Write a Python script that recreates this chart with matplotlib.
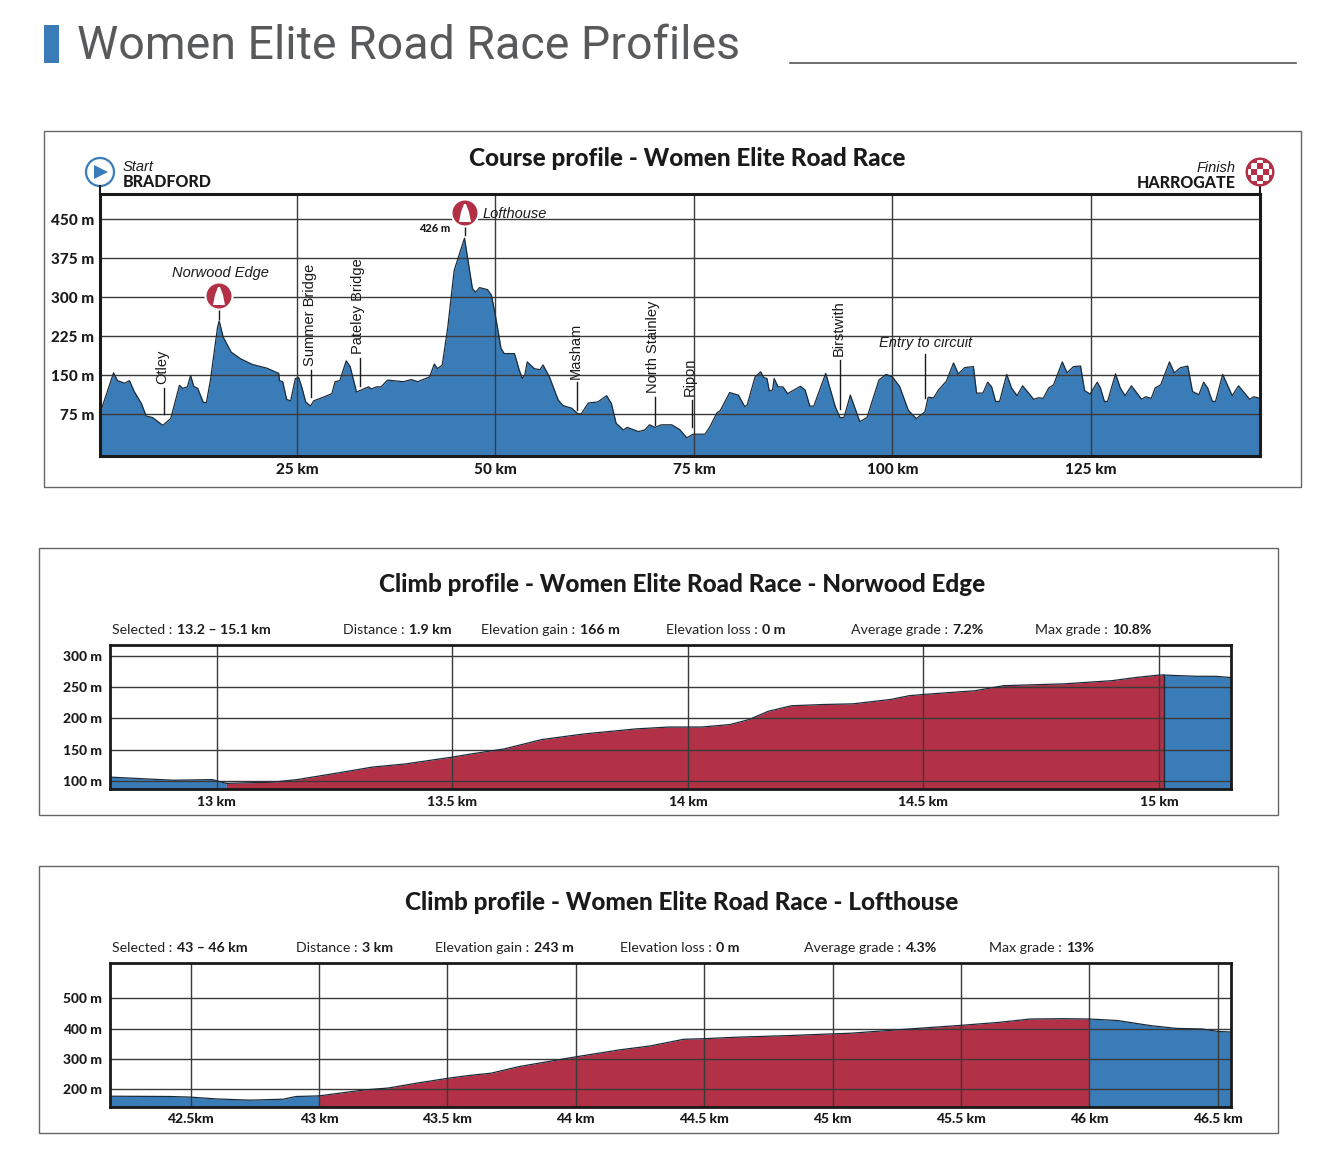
import matplotlib
matplotlib.use('Agg')
import matplotlib.pyplot as plt
from matplotlib.patches import Rectangle, Circle, Polygon

BLUE = '#3a7cb8'
RED = '#b23146'
DARK = '#1a1a1a'
GRID = '#3a3a3a'

# main course profile
main_km = [0.19, 1.9, 2.4, 3.3, 3.9, 4.5, 5.4, 6.0, 6.8, 8.1, 9.1, 10.2, 10.6, 11.2, 11.6, 12.0, 12.5, 13.2, 13.6, 14.1,
           15.0, 15.2, 15.7, 16.7, 17.9, 19.4, 21.2, 22.7, 22.8, 23.2, 23.7, 24.2, 24.8, 25.2, 25.6, 26.1, 26.7, 27.1,
           28.3, 29.4, 29.8, 30.4, 31.2, 31.7, 32.5, 34.0, 34.4, 35.0, 35.6, 36.4, 38.4, 39.4, 40.2, 41.7, 42.3, 42.7,
           43.3, 44.0, 44.8, 46.1, 47.1, 47.5, 48.0, 49.0, 49.5, 50.1, 50.7, 51.1, 52.4, 53.0, 53.4, 53.7, 54.0, 54.9,
           55.6, 56.0, 56.8, 57.9, 58.5, 59.6, 60.4, 60.8, 61.7, 62.9, 64.0, 64.6, 65.2, 66.1, 66.6, 68.0, 68.8, 69.4,
           70.1, 70.9, 72.2, 73.2, 74.1, 74.9, 76.4, 77.0, 77.9, 78.3, 79.5, 80.6, 81.4, 81.7, 82.7, 83.4, 83.8, 84.2,
           84.5, 84.9, 85.1, 85.6, 86.2, 86.8, 88.4, 89.0, 89.6, 90.1, 91.6, 92.8, 93.4, 93.9, 94.7, 95.9, 96.8, 98.3,
           99.2, 100.0, 100.9, 102.0, 103.0, 104.1, 104.5, 105.2, 105.8, 106.8, 107.7, 108.3, 109.1, 110.2, 110.6,
           111.4, 112.0, 112.5, 113.0, 113.5, 114.4, 115.0, 115.7, 116.4, 117.8, 118.4, 119.0, 119.7, 120.3, 121.4,
           122.0, 122.8, 123.7, 124.2, 124.9, 125.8, 126.2, 126.7, 127.1, 128.1, 128.7, 129.3, 130.1, 131.4, 131.9,
           132.6, 133.1, 133.8, 134.9, 135.5, 136.3, 137.2, 137.8, 138.6, 139.2, 139.7, 140.3, 140.7, 141.6, 142.8,
           143.6, 145.0, 145.5, 146.3]
main_elev = [77, 155, 140, 135, 140, 119, 96, 72, 69, 54, 67, 131, 125, 128, 150, 129, 125, 98, 98, 141,
             243, 255, 224, 195, 182, 171, 164, 154, 140, 138, 104, 101, 144, 146, 128, 99, 91, 101,
             108, 115, 138, 140, 178, 167, 118, 128, 124, 128, 128, 141, 138, 142, 138, 147, 172, 163,
             170, 243, 352, 414, 317, 310, 319, 315, 304, 256, 202, 192, 192, 160, 144, 151, 176, 163,
             161, 170, 147, 103, 92, 87, 76, 76, 97, 99, 111, 96, 58, 45, 50, 42, 45, 55,
             50, 55, 55, 46, 30, 37, 37, 51, 78, 82, 117, 112, 90, 93, 147, 157, 146, 144,
             120, 122, 144, 128, 128, 115, 129, 122, 91, 91, 154, 90, 69, 69, 112, 61, 69, 141,
             152, 147, 129, 83, 67, 80, 108, 107, 122, 139, 174, 153, 165, 167, 116,
             116, 137, 128, 100, 100, 152, 126, 111, 130, 104, 107, 106, 126, 132, 176,
             155, 167, 168, 121, 114, 137, 126, 100, 100, 153, 126, 111, 130, 104, 109,
             106, 126, 132, 176, 155, 165, 168, 119, 113, 137, 126, 100, 100, 152, 111,
             130, 104, 109, 106]
main_xticks = [25, 50, 75, 100, 125]
main_xlabels = ['25 km', '50 km', '75 km', '100 km', '125 km']
main_yticks = [75, 150, 225, 300, 375, 450]
main_ylabels = ['75 m', '150 m', '225 m', '300 m', '375 m', '450 m']

place_names = ['Otley', 'Summer Bridge', 'Pateley Bridge', 'Masham', 'North Stainley', 'Ripon', 'Birstwith']
place_km = [8.2, 26.8, 32.9, 60.3, 70.1, 74.7, 93.4]
place_low = [75, 109, 130, 84, 55, 51, 86]
place_high = [126, 161, 184, 137, 109, 103, 180]

# Norwood Edge climb
c1_before_km = [12.773, 12.907, 12.99, 13.02]
c1_before_elev = [106, 101, 102, 96]
c1_km = [13.02, 13.12, 13.17, 13.26, 13.33, 13.40, 13.50, 13.54, 13.61, 13.69, 13.78, 13.89, 13.96, 14.03, 14.09,
         14.13, 14.17, 14.22, 14.29, 14.35, 14.43, 14.47, 14.5, 14.61, 14.67, 14.80, 14.90, 14.95, 15.0, 15.01]
c1_elev = [96, 98, 102, 113, 122, 127, 138, 143, 151, 166, 175, 183, 186, 186, 190,
           198, 211, 220, 222, 223, 230, 236, 238, 244, 252, 255, 260, 265, 269, 269]
c1_after_km = [15.01, 15.08, 15.12, 15.153]
c1_after_elev = [269, 267, 267, 265]
c1_xticks = [13, 13.5, 14, 14.5, 15]
c1_xlabels = ['13 km', '13.5 km', '14 km', '14.5 km', '15 km']
c1_yticks = [100, 150, 200, 250, 300]
c1_ylabels = ['100 m', '150 m', '200 m', '250 m', '300 m']
c1_stat_names = ['Selected : ', 'Distance : ', 'Elevation gain : ', 'Elevation loss : ', 'Average grade : ', 'Max grade : ']
c1_stat_values = ['13.2 – 15.1 km', '1.9 km', '166 m', '0 m', '7.2%', '10.8%']

# Lofthouse climb
c2_before_km = [42.186, 42.42, 42.5, 42.6, 42.73, 42.86, 42.91, 43.0]
c2_before_elev = [177, 176, 174, 168, 164, 167, 176, 178]
c2_km = [43.0, 43.08, 43.18, 43.27, 43.38, 43.5, 43.59, 43.67, 43.78, 44.0, 44.17, 44.29, 44.42, 44.5, 44.63, 44.82,
         45.0, 45.07, 45.33, 45.5, 45.65, 45.77, 45.9, 46.0]
c2_elev = [178, 187, 198, 204, 220, 236, 246, 253, 275, 307, 330, 343, 365, 367, 372, 377,
           383, 385, 401, 411, 421, 432, 433, 432]
c2_after_km = [46.0, 46.11, 46.24, 46.34, 46.44, 46.5, 46.552]
c2_after_elev = [432, 427, 410, 401, 399, 391, 389]
c2_xticks = [42.5, 43, 43.5, 44, 44.5, 45, 45.5, 46, 46.5]
c2_xlabels = ['42.5km', '43 km', '43.5 km', '44 km', '44.5 km', '45 km', '45.5 km', '46 km', '46.5 km']
c2_yticks = [200, 300, 400, 500]
c2_ylabels = ['200 m', '300 m', '400 m', '500 m']
c2_stat_names = c1_stat_names
c2_stat_values = ['43 – 46 km', '3 km', '243 m', '0 m', '4.3%', '13%']

W, H = 1342, 1174
BOLD = {'family': 'Lato', 'weight': 'black'}
NARROW = ['Liberation Sans Narrow', 'Liberation Sans']

fig = plt.figure(figsize=(W / 100, H / 100), dpi=100, facecolor='white')

# overlay in pixel units for page furniture
bg = fig.add_axes([0, 0, 1, 1], zorder=0)
bg.set_xlim(0, W)
bg.set_ylim(H, 0)
bg.axis('off')
top = fig.add_axes([0, 0, 1, 1], zorder=5)
top.set_xlim(0, W)
top.set_ylim(H, 0)
top.axis('off')
top.patch.set_alpha(0)


def make_axes(left, right, ytop, ybottom, xlim, ylim, lw, xticks, xlabels, yticks, ylabels, fx, fy, ypad):
    ax = fig.add_axes([left / W, 1 - ybottom / H, (right - left) / W, (ybottom - ytop) / H], zorder=2)
    ax.set_xlim(xlim)
    ax.set_ylim(ylim)
    ax.set_xticks(xticks)
    ax.set_xticklabels(xlabels, fontsize=fx, **BOLD, color=DARK)
    ax.set_yticks(yticks)
    ax.set_yticklabels(ylabels, fontsize=fy, **BOLD, color=DARK)
    ax.tick_params(length=0, axis='x', pad=5)
    ax.tick_params(length=0, axis='y', pad=ypad)
    ax.grid(True, color=GRID, lw=1)
    ax.set_axisbelow(False)
    for s in ax.spines.values():
        s.set_linewidth(lw)
        s.set_color(DARK)
        s.set_zorder(6)
    return ax


def fill_part(ax, km, elev, color, base):
    ax.fill_between(km, elev, base, color=color, lw=0, zorder=1)
    ax.plot(km, elev, color='#1c2b3a', lw=0.9, zorder=3, solid_joinstyle='round')


def stat_row(names, values, xs, y):
    r = fig.canvas.get_renderer()
    for name, value, x in zip(names, values, xs):
        t = top.text(x, y, name, fontsize=10.2, family='Lato', color='#222222', va='center', ha='left')
        end = t.get_window_extent(r).x1
        top.text(end + 1, y, value, fontsize=10.2, family='Lato', weight='bold', color=DARK, va='center', ha='left')


def peak_icon(cx, cy):
    top.add_patch(Circle((cx, cy), 14.5, fc='white', ec='none', zorder=3))
    top.add_patch(Circle((cx, cy), 12.5, fc=RED, ec='none', zorder=4))
    top.add_patch(Polygon([(cx - 6, cy + 9), (cx - 4, cy - 1), (cx - 1, cy - 9), (cx + 1, cy - 9), (cx + 4, cy - 1),
                           (cx + 6, cy + 9)], fc='white', ec='none', zorder=5))


# heading
bg.add_patch(Rectangle((44, 25), 15, 38, fc=BLUE, ec='none'))
bg.text(77, 46, 'Women Elite Road Race Profiles', fontsize=33.5, family='Roboto', color='#58595b', va='center', ha='left')
bg.plot([790, 1296], [63, 63], color='#555555', lw=1.2)

# panel frames
for x0, y0, x1, y1 in [(44, 131, 1301, 487), (39, 548, 1278, 815), (39, 866, 1278, 1133)]:
    bg.add_patch(Rectangle((x0, y0), x1 - x0, y1 - y0, fc='white', ec='#666666', lw=1))

# course profile
ax = make_axes(100, 1260, 194, 456, (0.19, 146.3), (-5, 499), 2.2, main_xticks, main_xlabels, main_yticks, main_ylabels,
               11, 11, 4)
fill_part(ax, main_km, main_elev, BLUE, -5)

for name, km, lo, hi in zip(place_names, place_km, place_low, place_high):
    ax.plot([km, km], [lo, hi], color=DARK, lw=1, zorder=4)
    ax.text(km - 0.2, hi + 7, name, rotation=90, ha='center', va='bottom', fontsize=10.5, family=NARROW, color=DARK,
            zorder=7)
ax.plot([104.1, 104.1], [107, 191], color=DARK, lw=1, zorder=4)
top.text(926, 343, 'Entry to circuit', fontsize=10.5, family=NARROW, style='italic', color=DARK, ha='center', va='center')

top.text(687, 158, 'Course profile - Women Elite Road Race', fontsize=17.5, **BOLD, color=DARK, ha='center', va='center')
top.text(123, 167, 'Start', fontsize=10.5, family=NARROW, style='italic', color=DARK, va='center')
top.text(123, 182, 'BRADFORD', fontsize=11.5, **BOLD, color=DARK, va='center')
top.text(1236, 168, 'Finish', fontsize=10.5, family=NARROW, style='italic', color=DARK, va='center', ha='right')
top.text(1236, 183, 'HARROGATE', fontsize=11.5, **BOLD, color=DARK, va='center', ha='right')

# start and finish icons
top.plot([100, 100], [186, 194], color=DARK, lw=1.5)
top.plot([1260, 1260], [186, 194], color=DARK, lw=1.5)
top.add_patch(Circle((100, 172), 14, fc='white', ec=BLUE, lw=1.6))
top.add_patch(Polygon([(94, 165), (94, 179), (108, 172)], fc=BLUE, ec='none'))
finish_bg = Circle((1260, 172), 14.5, fc=RED, ec='none', zorder=3)
top.add_patch(finish_bg)
clip = Circle((1260, 172), 12, transform=top.transData)
for i in range(-3, 3):
    for j in range(-3, 3):
        if (i + j) % 2 == 0:
            sq = Rectangle((1260 + i * 6 + 3, 172 + j * 6 + 3), 6, 6, fc='white', ec='none', zorder=4)
            top.add_patch(sq)
            sq.set_clip_path(clip)

# climb markers on the course profile
peak_icon(219, 296)
top.plot([219, 219], [310, 319], color=DARK, lw=1)
top.text(220, 273, 'Norwood Edge', fontsize=10.5, family=NARROW, style='italic', color=DARK, ha='center', va='center')
peak_icon(465, 213)
top.plot([465, 465], [227, 235], color=DARK, lw=1)
top.text(483, 214, 'Lofthouse', fontsize=10.5, family=NARROW, style='italic', color=DARK, ha='left', va='center')
top.text(450, 228, '426 m', fontsize=8, **BOLD, color=DARK, ha='right', va='center')

# Norwood Edge panel
ax1 = make_axes(110, 1231, 645, 789, (12.773, 15.153), (87, 317), 2, c1_xticks, c1_xlabels, c1_yticks, c1_ylabels, 10, 10, 6)
fill_part(ax1, c1_before_km, c1_before_elev, BLUE, 87)
fill_part(ax1, c1_km, c1_elev, RED, 87)
fill_part(ax1, c1_after_km, c1_after_elev, BLUE, 87)
ax1.plot([15.01, 15.01], [87, 269], color='#1c2b3a', lw=1, zorder=3)
top.text(682, 584, 'Climb profile - Women Elite Road Race - Norwood Edge', fontsize=17.5, **BOLD, color=DARK, ha='center', va='center')

# Lofthouse panel
ax2 = make_axes(110, 1231, 963, 1106.5, (42.186, 46.552), (143, 617), 2, c2_xticks, c2_xlabels, c2_yticks, c2_ylabels, 10, 10, 6)
fill_part(ax2, c2_before_km, c2_before_elev, BLUE, 143)
fill_part(ax2, c2_km, c2_elev, RED, 143)
fill_part(ax2, c2_after_km, c2_after_elev, BLUE, 143)
top.text(682, 902, 'Climb profile - Women Elite Road Race - Lofthouse', fontsize=17.5, **BOLD, color=DARK, ha='center', va='center')

fig.canvas.draw()
stat_row(c1_stat_names, c1_stat_values, [112, 343, 481, 666, 851, 1035], 630)
stat_row(c2_stat_names, c2_stat_values, [112, 296, 435, 620, 804, 989], 948)

fig.savefig('out.png', dpi=100, facecolor='white')
